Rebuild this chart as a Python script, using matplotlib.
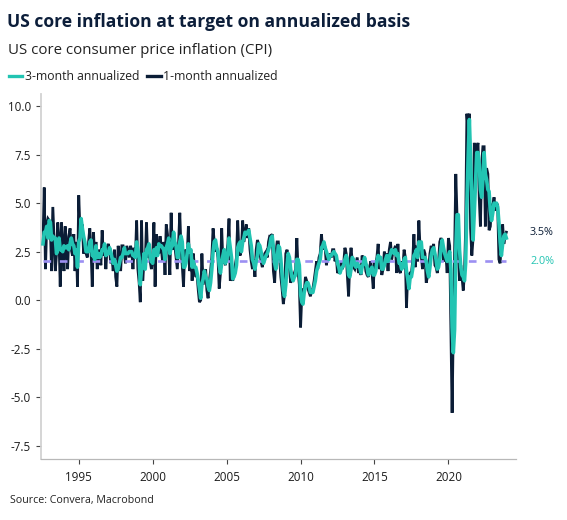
import matplotlib
matplotlib.use("Agg")
import matplotlib.pyplot as plt
import matplotlib.dates as mdates
from matplotlib.lines import Line2D
import pandas as pd

plt.rcParams['font.family'] = ['Open Sans', 'DejaVu Sans']

# ---------------- data (monthly, Aug 1992 - Dec 2023, % annualized) ----------------
start_month = "1992-08-01"

one_month = [
    3.0, 5.8, 1.6, 3.9, 4.2,                                         # 1992 Aug-Dec
    4.1, 3.6, 1.5, 4.8, 3.2, 1.5, 2.4, 4.0, 3.1, 0.7, 4.0, 2.9,      # 1993
    1.5, 3.8, 2.9, 1.6, 3.3, 3.7, 2.6, 2.3, 3.4, 1.5, 3.0, 0.7,      # 1994
    5.4, 3.6, 3.7, 3.9, 2.4, 2.8, 2.4, 2.2, 3.0, 3.7, 2.6, 0.7,      # 1995
    3.5, 2.0, 3.0, 1.6, 2.6, 2.4, 1.8, 3.6, 2.3, 2.9, 1.6, 2.7,      # 1996
    2.9, 2.6, 1.9, 2.2, 1.5, 2.6, 1.2, 0.7, 2.8, 2.2, 1.5, 2.8,      # 1997
    2.8, 2.4, 1.9, 2.8, 2.5, 2.2, 2.8, 2.6, 1.6, 2.7, 2.2, 4.1,      # 1998
    1.6, 0.9, -0.1, 4.1, 1.0, 2.0, 1.8, 4.0, 2.2, 2.5, 2.0, 1.6,     # 1999
    2.2, 4.0, 0.7, 3.4, 2.8, 2.4, 3.3, 2.7, 2.0, 3.0, 1.3, 3.9,      # 2000
    3.4, 2.4, 1.3, 4.5, 2.6, 3.5, 2.8, 2.2, 1.6, 2.9, 4.5, 2.6,      # 2001
    1.8, 0.7, 2.5, 2.6, 2.2, 3.8, 1.5, 2.6, 1.0, 2.4, 1.6, 1.2,      # 2002
    1.3, 0.5, -0.1, 0.0, 2.4, 0.8, 1.2, 1.6, 0.5, 0.1, 1.0, 1.5,     # 2003
    2.2, 3.7, 3.0, 2.5, 2.7, 2.2, 0.6, 1.4, 3.7, 1.9, 2.1, 1.8,      # 2004
    2.4, 2.9, 4.2, 1.0, 1.3, 1.0, 1.4, 1.8, 2.2, 4.1, 2.5, 2.3,      # 2005
    2.6, 4.1, 3.0, 3.4, 3.9, 3.2, 3.7, 2.6, 2.0, 1.6, 2.1, 1.2,      # 2006
    2.6, 3.1, 2.9, 2.5, 2.0, 1.7, 2.1, 2.4, 2.5, 2.2, 3.0, 3.3,      # 2007
    3.3, 3.4, 1.5, 0.9, 2.4, 3.0, 3.0, 2.2, 1.2, 0.6, -0.2, 0.3,     # 2008
    2.4, 2.6, 2.2, 1.7, 0.9, 1.1, 1.0, 1.4, 1.6, 3.2, 1.5, 0.8,      # 2009
    -1.4, 0.3, 0.6, 0.4, 1.2, 1.0, 0.6, 0.4, 0.2, 0.5, 0.6, 1.0,     # 2010
    1.5, 2.0, 1.6, 2.2, 2.4, 3.4, 2.6, 2.9, 2.7, 1.8, 2.3, 2.2,      # 2011
    2.4, 2.2, 2.6, 2.6, 2.0, 2.3, 1.4, 1.5, 1.4, 2.0, 1.6, 1.9,      # 2012
    2.7, 2.4, 1.3, 0.2, 2.0, 2.7, 2.0, 1.7, 1.6, 1.9, 2.2, 1.4,      # 2013
    1.6, 1.3, 2.3, 2.1, 2.2, 1.5, 1.3, 1.2, 1.7, 2.0, 1.4, 0.6,      # 2014
    2.0, 1.9, 2.2, 2.9, 1.6, 2.0, 1.3, 1.6, 2.5, 2.1, 2.4, 1.5,      # 2015
    2.6, 3.0, 2.1, 2.5, 2.6, 2.8, 1.4, 2.9, 1.5, 1.4, 2.0, 1.7,      # 2016
    2.6, 2.2, -0.4, 1.4, 0.8, 1.4, 1.4, 2.0, 3.4, 1.7, 2.8, 2.0,     # 2017
    4.1, 2.6, 2.3, 1.6, 2.6, 2.4, 0.9, 1.2, 1.6, 2.4, 2.8, 2.5,      # 2018
    2.9, 1.8, 1.7, 1.4, 1.9, 3.0, 3.2, 3.0, 2.0, 2.2, 2.3, 1.4,      # 2019
    3.2, 2.8, -1.2, -5.8, -1.2, 2.4, 6.5, 4.3, 2.4, 1.0, 1.8, 1.2,   # 2020
    0.5, 1.4, 3.7, 9.6, 8.7, 9.6, 3.7, 2.3, 3.2, 8.1, 7.0, 7.8,      # 2021
    8.1, 5.2, 3.8, 7.0, 7.9, 7.9, 3.8, 6.8, 6.5, 3.6, 3.8, 4.9,      # 2022
    4.9, 5.3, 4.6, 5.0, 4.9, 2.1, 1.9, 3.0, 3.9, 2.9, 3.3, 3.5,      # 2023
]

three_month = [
    2.9, 3.5, 3.5, 3.8, 3.2,                                         # 1992 Aug-Dec
    4.1, 4.0, 3.1, 3.3, 3.2, 3.2, 2.4, 2.6, 3.2, 2.6, 2.6, 2.5,      # 1993
    2.8, 2.7, 2.7, 2.8, 2.6, 2.9, 3.2, 2.9, 2.8, 2.4, 2.6, 1.7,      # 1994
    3.0, 3.2, 4.2, 3.7, 3.3, 3.0, 2.5, 2.5, 2.5, 3.0, 3.1, 2.3,      # 1995
    2.3, 2.1, 2.8, 2.2, 2.4, 2.2, 2.3, 2.6, 2.6, 2.9, 2.3, 2.4,      # 1996
    2.4, 2.7, 2.5, 2.2, 1.9, 2.1, 1.8, 1.5, 1.6, 1.9, 2.2, 2.2,      # 1997
    2.4, 2.7, 2.4, 2.4, 2.4, 2.5, 2.5, 2.5, 2.3, 2.3, 2.2, 3.0,      # 1998
    2.6, 2.2, 0.8, 1.6, 1.7, 2.4, 1.6, 2.6, 2.7, 2.9, 2.2, 2.0,      # 1999
    1.9, 2.6, 2.3, 2.7, 2.3, 2.9, 2.8, 2.8, 2.7, 2.6, 2.1, 2.7,      # 2000
    2.9, 3.2, 2.4, 2.7, 2.8, 3.5, 3.0, 2.8, 2.2, 2.2, 3.0, 3.3,      # 2001
    3.0, 1.7, 1.7, 1.9, 2.4, 2.9, 2.5, 2.6, 1.7, 2.0, 1.7, 1.7,      # 2002
    1.4, 1.0, 0.6, 0.1, 0.8, 1.1, 1.5, 1.2, 1.1, 0.7, 0.5, 0.9,      # 2003
    1.6, 2.5, 3.0, 3.1, 2.7, 2.5, 1.8, 1.4, 1.9, 2.3, 2.6, 1.9,      # 2004
    2.1, 2.4, 3.2, 2.7, 2.2, 1.1, 1.2, 1.4, 1.8, 2.7, 2.9, 3.0,      # 2005
    2.5, 3.0, 3.2, 3.5, 3.4, 3.5, 3.6, 3.2, 2.8, 2.1, 1.9, 1.6,      # 2006
    2.0, 2.3, 2.9, 2.8, 2.5, 2.1, 1.9, 2.1, 2.3, 2.4, 2.6, 2.8,      # 2007
    3.2, 3.3, 2.7, 1.9, 1.6, 2.1, 2.8, 2.7, 2.1, 1.3, 0.5, 0.2,      # 2008
    0.8, 1.8, 2.4, 2.2, 1.6, 1.2, 1.0, 1.2, 1.3, 2.1, 2.1, 1.8,      # 2009
    0.3, -0.1, -0.2, 0.4, 0.7, 0.9, 0.9, 0.7, 0.4, 0.4, 0.4, 0.7,    # 2010
    1.0, 1.5, 1.7, 1.9, 2.1, 2.7, 2.8, 3.0, 2.7, 2.5, 2.3, 2.1,      # 2011
    2.3, 2.3, 2.4, 2.5, 2.4, 2.3, 1.9, 1.7, 1.4, 1.6, 1.7, 1.8,      # 2012
    2.1, 2.3, 2.1, 1.3, 1.2, 1.6, 2.2, 2.1, 1.8, 1.7, 1.9, 1.8,      # 2013
    1.7, 1.4, 1.7, 1.9, 2.2, 1.9, 1.7, 1.3, 1.4, 1.6, 1.7, 1.3,      # 2014
    1.3, 1.5, 2.0, 2.3, 2.2, 2.2, 1.6, 1.6, 1.8, 2.1, 2.3, 2.0,      # 2015
    2.2, 2.4, 2.6, 2.5, 2.4, 2.6, 2.3, 2.4, 1.9, 1.9, 1.6, 1.7,      # 2016
    2.1, 2.2, 1.5, 1.1, 0.6, 1.2, 1.2, 1.6, 2.3, 2.4, 2.6, 2.2,      # 2017
    3.0, 2.9, 3.0, 2.2, 2.2, 2.2, 2.0, 1.5, 1.2, 1.7, 2.3, 2.6,      # 2018
    2.7, 2.4, 2.1, 1.6, 1.7, 2.1, 2.7, 3.1, 2.7, 2.4, 2.2, 2.0,      # 2019
    2.3, 2.5, 1.6, -1.4, -2.7, -1.5, 2.6, 4.4, 4.4, 2.6, 1.7, 1.3,   # 2020
    1.2, 1.0, 1.9, 4.9, 7.3, 9.3, 7.3, 5.2, 3.1, 4.5, 6.1, 7.6,      # 2021
    7.6, 7.0, 5.7, 5.3, 6.2, 7.6, 6.5, 6.2, 5.7, 5.6, 4.6, 4.1,      # 2022
    4.5, 5.0, 4.9, 5.0, 4.8, 4.0, 3.0, 2.3, 2.9, 3.3, 3.4, 3.2,      # 2023
]

target = 2.0
x_tick_years = [1995, 2000, 2005, 2010, 2015, 2020]
y_ticks = [-7.5, -5.0, -2.5, 0.0, 2.5, 5.0, 7.5, 10.0]

title = "US core inflation at target on annualized basis"
subtitle = "US core consumer price inflation (CPI)"
source = "Source: Convera, Macrobond"
label_3m = "3-month annualized"
label_1m = "1-month annualized"

# ---------------- styling ----------------
TEAL = "#22c4b2"
NAVY = "#0b1d36"
PURPLE = "#9c8ff2"
TXT = "#1b1b1b"

dates = pd.date_range(start_month, periods=len(one_month), freq="MS")

fig = plt.figure(figsize=(5.67, 5.20), dpi=100)
ax = fig.add_axes([41/567, 1 - 459.3/520, (516-41)/567, (459.3-94.3)/520])

ax.plot(dates, one_month, color=NAVY, lw=2.0, zorder=2, solid_joinstyle='miter')
ax.hlines(target, dates[0], dates[-1], colors=PURPLE, lw=1.9,
          linestyles=(0, (2.9, 3.3)), zorder=3)
ax.plot(dates, three_month, color=TEAL, lw=2.6, zorder=4, solid_joinstyle='round')

ax.set_xlim(pd.Timestamp("1992-06-13"), pd.Timestamp("2024-07-27"))
ax.set_ylim(-8.19, 10.6)
ax.set_xticks([pd.Timestamp(f"{y}-01-01") for y in x_tick_years])
ax.xaxis.set_major_formatter(mdates.DateFormatter("%Y"))
ax.set_yticks(y_ticks)
ax.set_yticklabels([f"{v:.1f}" for v in y_ticks])

for s in ["top", "right"]:
    ax.spines[s].set_visible(False)
ax.spines["left"].set_color("#d2d2d2")
ax.spines["left"].set_linewidth(1.3)
ax.spines["bottom"].set_color("#b8b8b8")
ax.spines["bottom"].set_linewidth(0.9)
ax.tick_params(axis="both", colors="#444444", labelcolor=TXT, labelsize=8.4,
               length=3.4, width=0.8)
ax.tick_params(axis="x", pad=5)
ax.tick_params(axis="y", pad=3.8)

# end labels
ax.annotate(f"{one_month[-1]:.1f}%", xy=(1.0295, one_month[-1]),
            xycoords=("axes fraction", "data"), color=NAVY, fontsize=7.8,
            va="center", ha="left")
ax.annotate(f"{target:.1f}%", xy=(1.0295, target),
            xycoords=("axes fraction", "data"), color=TEAL, fontsize=7.8,
            va="center", ha="left")

# titles
fig.text(7/567, 1 - 27.3/520, title, fontsize=12.65, fontweight="bold",
         color="#0c1e3a", va="baseline", ha="left")
fig.text(7.5/567, 1 - 53.5/520, subtitle, fontsize=10.8, color="#222222",
         va="baseline", ha="left")
fig.text(10/567, 1 - 503.5/520, source, fontsize=7.7, color="#222222",
         va="baseline", ha="left")

handles = [Line2D([0], [0], color=TEAL, lw=2.4),
           Line2D([0], [0], color=NAVY, lw=2.4)]
fig.legend(handles, [label_3m, label_1m], loc="center left",
           bbox_to_anchor=(9/567, 1 - 76.7/520), bbox_transform=fig.transFigure,
           ncol=2, frameon=False, fontsize=8.8, handlelength=1.1,
           handletextpad=0.2, columnspacing=0.65, borderpad=0, borderaxespad=0,
           labelcolor="#222222")

fig.savefig("out.png", dpi=100)
